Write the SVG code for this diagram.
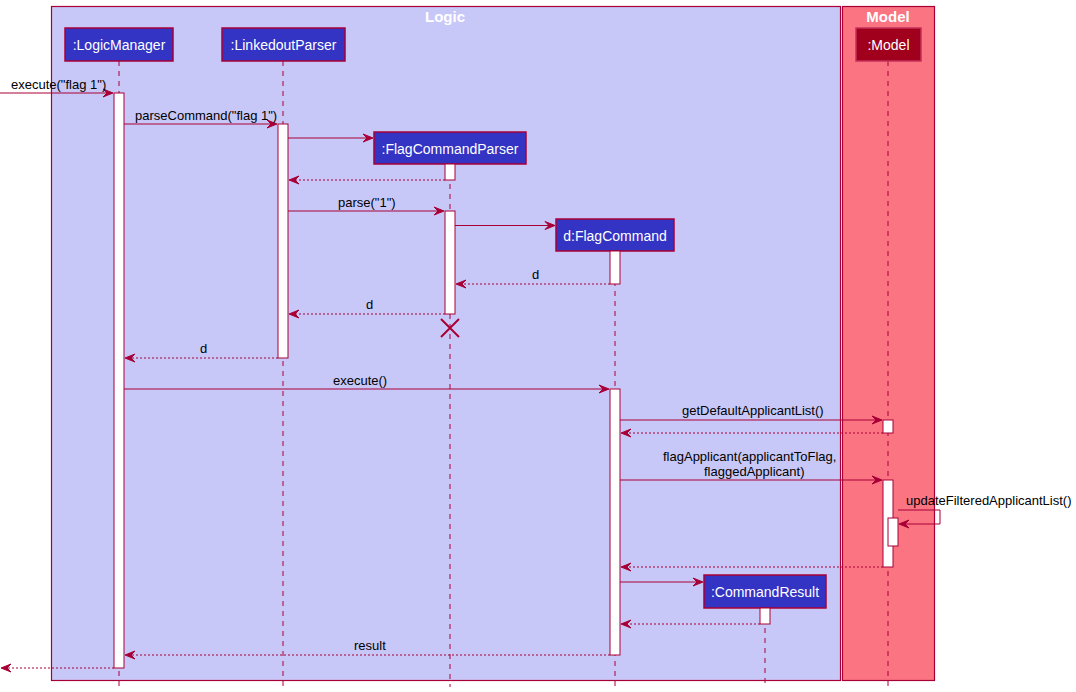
<svg xmlns="http://www.w3.org/2000/svg" width="1076" height="692" viewBox="0 0 1076 692">
<style>
.t{font-family:"Liberation Sans",Arial,sans-serif;font-size:13px;fill:#000}
.pt{font-family:"Liberation Sans",Arial,sans-serif;font-size:14px;fill:#fff;text-anchor:middle}
.bt{font-family:"Liberation Sans",Arial,sans-serif;font-size:15px;font-weight:bold;fill:#fff;text-anchor:middle}
.life{stroke:#A80036;stroke-width:1;stroke-dasharray:5,5;fill:none}
.act{fill:#fff;stroke:#A80036;stroke-width:1}
.part{fill:#3333C4;stroke:#A80036;stroke-width:1.5}
.msg{stroke:#A80036;stroke-width:1;fill:none}
.ret{stroke:#A80036;stroke-width:1;stroke-dasharray:2,2;fill:none}
.ah{fill:#A80036;stroke:#A80036;stroke-width:1}
</style>
<rect width="1076" height="692" fill="#fff"/>
<g id="box-logic">
<rect x="51.5" y="6.5" width="789" height="674" fill="#C8C8F8" stroke="#A80036" stroke-width="1.2"/>
<text class="bt" x="445" y="22">Logic</text>
</g>
<g id="box-model">
<rect x="842.5" y="6.5" width="92" height="674" fill="#FA7482" stroke="#A80036" stroke-width="1.2"/>
<text class="bt" x="888" y="22">Model</text>
</g>
<g id="lifelines">
<line class="life" x1="119" y1="61" x2="119" y2="687"/>
<line class="life" x1="283" y1="61" x2="283" y2="687"/>
<line class="life" x1="450" y1="164" x2="450" y2="687"/>
<line class="life" x1="615" y1="251" x2="615" y2="687"/>
<line class="life" x1="888" y1="61" x2="888" y2="687"/>
<line class="life" x1="765" y1="608" x2="765" y2="687"/>
</g>
<g id="LogicManager">
<rect class="part" x="65" y="28" width="108" height="33"/>
<text class="pt" x="119" y="50">:LogicManager</text>
<rect class="act" x="114" y="93" width="10" height="575"/>
</g>
<g id="LinkedoutParser">
<rect class="part" x="222" y="28" width="123" height="33"/>
<text class="pt" x="283.5" y="50">:LinkedoutParser</text>
<rect class="act" x="278" y="124" width="10" height="234"/>
</g>
<g id="FlagCommandParser">
<rect class="part" x="374" y="132" width="152" height="32"/>
<text class="pt" x="450" y="154">:FlagCommandParser</text>
<rect class="act" x="445" y="164" width="10" height="16"/>
<rect class="act" x="445" y="211" width="10" height="103"/>
<path d="M441,319 L459,337 M459,319 L441,337" stroke="#A80036" stroke-width="2" fill="none"/>
</g>
<g id="FlagCommand">
<rect class="part" x="556" y="219" width="118" height="32"/>
<text class="pt" x="615" y="241">d:FlagCommand</text>
<rect class="act" x="610" y="251" width="10" height="33"/>
<rect class="act" x="610" y="389" width="10" height="266"/>
</g>
<g id="Model">
<rect x="856" y="28" width="65" height="33" fill="#A0001C" stroke="#C4305A" stroke-width="1.5"/>
<text class="pt" x="888.5" y="50">:Model</text>
<rect class="act" x="883" y="420" width="10" height="13"/>
<rect class="act" x="883" y="480" width="10" height="87"/>
<rect class="act" x="888" y="518" width="10" height="28"/>
</g>
<g id="CommandResult">
<rect class="part" x="704" y="575" width="122" height="33"/>
<text class="pt" x="765" y="597">:CommandResult</text>
<rect class="act" x="760" y="608" width="10" height="16"/>
</g>
<g id="connectors">
<line class="msg" x1="0" y1="93" x2="112" y2="93"/>
<polygon class="ah" points="113,93 103,89 107,93 103,97"/>
<text class="t" x="11" y="89">execute("flag 1")</text>

<line class="msg" x1="124" y1="124" x2="276" y2="124"/>
<polygon class="ah" points="277,124 267,120 271,124 267,128"/>
<text class="t" x="135" y="120">parseCommand("flag 1")</text>

<line class="msg" x1="288" y1="138" x2="372" y2="138"/>
<polygon class="ah" points="373,138 363,134 367,138 363,142"/>

<line class="ret" x1="445" y1="180" x2="290" y2="180"/>
<polygon class="ah" points="289,180 299,176 295,180 299,184"/>

<line class="msg" x1="288" y1="211" x2="443" y2="211"/>
<polygon class="ah" points="444,211 434,207 438,211 434,215"/>
<text class="t" x="338" y="207">parse("1")</text>

<line class="msg" x1="455" y1="225.5" x2="554" y2="225.5"/>
<polygon class="ah" points="555,225.5 545,221.5 549,225.5 545,229.5"/>

<line class="ret" x1="610" y1="284" x2="457" y2="284"/>
<polygon class="ah" points="456,284 466,280 462,284 466,288"/>
<text class="t" x="532" y="279">d</text>

<line class="ret" x1="445" y1="314" x2="290" y2="314"/>
<polygon class="ah" points="289,314 299,310 295,314 299,318"/>
<text class="t" x="366" y="309">d</text>

<line class="ret" x1="278" y1="358" x2="126" y2="358"/>
<polygon class="ah" points="125,358 135,354 131,358 135,362"/>
<text class="t" x="200" y="353">d</text>

<line class="msg" x1="124" y1="389" x2="608" y2="389"/>
<polygon class="ah" points="609,389 599,385 603,389 599,393"/>
<text class="t" x="333" y="385">execute()</text>

<line class="msg" x1="620" y1="420" x2="881" y2="420"/>
<polygon class="ah" points="882,420 872,416 876,420 872,424"/>
<text class="t" x="682" y="415">getDefaultApplicantList()</text>

<line class="ret" x1="883" y1="433" x2="622" y2="433"/>
<polygon class="ah" points="621,433 631,429 627,433 631,437"/>

<line class="msg" x1="620" y1="480" x2="881" y2="480"/>
<polygon class="ah" points="882,480 872,476 876,480 872,484"/>
<text class="t" x="663" y="461">flagApplicant(applicantToFlag,</text>
<text class="t" x="704" y="476">flaggedApplicant)</text>

<polyline class="msg" points="898,510 940,510 940,524 900,524"/>
<polygon class="ah" points="899,524 909,520 905,524 909,528"/>
<text class="t" x="906" y="505">updateFilteredApplicantList()</text>

<line class="ret" x1="883" y1="567" x2="622" y2="567"/>
<polygon class="ah" points="621,567 631,563 627,567 631,571"/>

<line class="msg" x1="620" y1="582" x2="702" y2="582"/>
<polygon class="ah" points="703,582 693,578 697,582 693,586"/>

<line class="ret" x1="760" y1="624" x2="622" y2="624"/>
<polygon class="ah" points="621,624 631,620 627,624 631,628"/>

<line class="ret" x1="610" y1="655" x2="126" y2="655"/>
<polygon class="ah" points="125,655 135,651 131,655 135,659"/>
<text class="t" x="354" y="650">result</text>

<line class="ret" x1="114" y1="668" x2="2" y2="668"/>
<polygon class="ah" points="1,668 11,664 7,668 11,672"/>
</g>
</svg>
